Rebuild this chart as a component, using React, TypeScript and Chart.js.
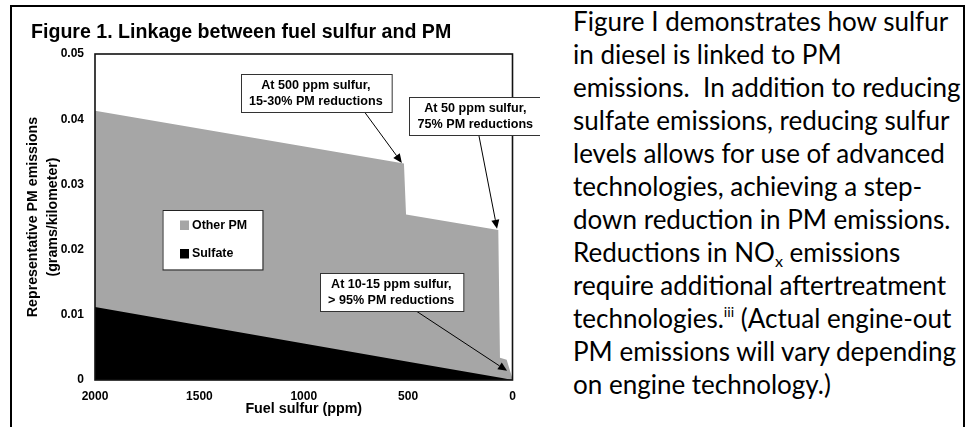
import React, { useEffect, useRef } from 'react';
import { Chart, registerables } from 'chart.js';

Chart.register(...registerables);

// ---- data ----
const otherPmPpm = [2000, 520, 510, 68, 60, 28, 0];
const otherPmTotal = [0.0413, 0.0332, 0.0254, 0.023, 0.0034, 0.0031, 0.0002];
const sulfatePpm = [2000, 1500, 1000, 500, 50, 0];
const sulfateValues = [0.0112, 0.0084, 0.0056, 0.0028, 0.0003, 0];
const xTickValues = [2000, 1500, 1000, 500, 0];
const yTickValues = [0, 0.01, 0.02, 0.03, 0.04, 0.05];
const seriesLabels = ['Other PM', 'Sulfate'];
const seriesColors = ['#a6a6a6', '#000000'];

const chartTitle = 'Figure 1. Linkage between fuel sulfur and PM';
const xTitle = 'Fuel sulfur (ppm)';
const yTitle = ['Representative PM emissions', '(grams/kilometer)'];

const annotationText = [
  ['At 500 ppm sulfur,', '15-30% PM reductions'],
  ['At 50 ppm sulfur,', '75% PM reductions'],
  ['At 10-15 ppm sulfur,', '> 95% PM reductions'],
];
const annotationCenterPpm = [942, 178, 581];
const annotationCenterValue = [0.044, 0.0405, 0.0135];
const arrowTailPpm = [707, 161, 458];
const arrowTipPpm = [530, 74, 26];
const arrowTipValue = [0.0333, 0.0232, 0.0014];

const bodyLines = [
  'Figure I demonstrates how sulfur',
  'in diesel is linked to PM',
  'emissions.  In addition to reducing',
  'sulfate emissions, reducing sulfur',
  'levels allows for use of advanced',
  'technologies, achieving a step-',
  'down reduction in PM emissions.',
  'NOX',
  'require additional aftertreatment',
  'III',
  'PM emissions will vary depending',
  'on engine technology.)',
];

const FONT = 'Arial, "Liberation Sans", Helvetica, sans-serif';

const framePlugin = {
  id: 'framePlugin',
  beforeDraw(chart: any) {
    const ctx = chart.ctx;
    ctx.save();
    ctx.fillStyle = '#000';
    ctx.font = `bold 19.6px ${FONT}`;
    ctx.textBaseline = 'alphabetic';
    ctx.textAlign = 'left';
    ctx.fillText(chartTitle, 31, 38);
    ctx.restore();
  },
  afterDatasetsDraw(chart: any) {
    const ctx = chart.ctx;
    const a = chart.chartArea;
    ctx.save();
    ctx.strokeStyle = '#111';
    ctx.lineWidth = 1.6;
    ctx.strokeRect(a.left, a.top, a.right - a.left, a.bottom - a.top);
    // legend
    const lx = a.left + 67.5;
    const ly = a.top + 156;
    ctx.fillStyle = '#fff';
    ctx.fillRect(lx, ly, 100, 59.5);
    ctx.strokeStyle = '#222';
    ctx.lineWidth = 1;
    ctx.strokeRect(lx + 0.5, ly + 0.5, 100, 59.5);
    ctx.font = `bold 12.4px ${FONT}`;
    ctx.textBaseline = 'middle';
    ctx.textAlign = 'left';
    seriesLabels.forEach((lab, i) => {
      const yy = ly + 10.5 + i * 28.5;
      ctx.fillStyle = seriesColors[i];
      ctx.fillRect(lx + 17.5, yy, 9, 9.5);
      ctx.fillStyle = '#000';
      ctx.fillText(lab, lx + 29.5, yy + 5);
    });
    ctx.restore();
  },
  afterDraw(chart: any) {
    const ctx = chart.ctx;
    const xs = chart.scales.x;
    const ys = chart.scales.y;
    ctx.save();
    ctx.font = `bold 12.6px ${FONT}`;
    ctx.textAlign = 'center';
    ctx.textBaseline = 'middle';
    annotationText.forEach((lines, i) => {
      const cx = xs.getPixelForValue(annotationCenterPpm[i]);
      const cy = ys.getPixelForValue(annotationCenterValue[i]);
      const w = Math.max(...lines.map((l) => ctx.measureText(l).width)) + 17;
      const h = 38;
      const bx = Math.round(cx - w / 2) + 0.5;
      const by = Math.round(cy - h / 2) + 0.5;
      // arrow
      const tx = xs.getPixelForValue(arrowTailPpm[i]);
      const ty = by + h;
      const px = xs.getPixelForValue(arrowTipPpm[i]);
      const py = ys.getPixelForValue(arrowTipValue[i]);
      const ang = Math.atan2(py - ty, px - tx);
      const hl = 9;
      const hw = 4;
      ctx.strokeStyle = '#000';
      ctx.lineWidth = 1;
      ctx.beginPath();
      ctx.moveTo(tx, ty);
      ctx.lineTo(px - hl * Math.cos(ang), py - hl * Math.sin(ang));
      ctx.stroke();
      ctx.fillStyle = '#000';
      ctx.beginPath();
      ctx.moveTo(px, py);
      ctx.lineTo(px - hl * Math.cos(ang) + hw * Math.sin(ang), py - hl * Math.sin(ang) - hw * Math.cos(ang));
      ctx.lineTo(px - hl * Math.cos(ang) - hw * Math.sin(ang), py - hl * Math.sin(ang) + hw * Math.cos(ang));
      ctx.closePath();
      ctx.fill();
      // box
      ctx.fillStyle = '#fff';
      ctx.fillRect(bx, by, w, h);
      ctx.strokeStyle = '#333';
      ctx.strokeRect(bx, by, w, h);
      ctx.fillStyle = '#000';
      lines.forEach((l, j) => {
        ctx.fillText(l, cx, cy - 7.7 + j * 15.8);
      });
    });
    ctx.restore();
  },
};

export default function App() {
  const ref = useRef<HTMLCanvasElement>(null);

  useEffect(() => {
    if (!ref.current) return;
    const chart = new Chart(ref.current, {
      type: 'line',
      data: {
        datasets: [
          {
            label: seriesLabels[0],
            data: otherPmPpm.map((x, i) => ({ x, y: otherPmTotal[i] })),
            backgroundColor: seriesColors[0],
            borderColor: 'rgba(0,0,0,0)',
            borderWidth: 0,
            pointRadius: 0,
            fill: 'origin',
            tension: 0,
            order: 2,
          },
          {
            label: seriesLabels[1],
            data: sulfatePpm.map((x, i) => ({ x, y: sulfateValues[i] })),
            backgroundColor: seriesColors[1],
            borderColor: 'rgba(0,0,0,0)',
            borderWidth: 0,
            pointRadius: 0,
            fill: 'origin',
            tension: 0,
            order: 1,
          },
        ],
      },
      options: {
        responsive: false,
        animation: false,
        devicePixelRatio: 1,
        layout: { padding: { left: 0, right: 27.5, top: 54, bottom: 0 } },
        plugins: {
          legend: { display: false },
          tooltip: { enabled: false },
          title: { display: false },
        },
        scales: {
          x: {
            type: 'linear',
            reverse: true,
            min: 0,
            max: 2000,
            afterFit: (s: any) => {
              s.height = 47;
            },
            afterBuildTicks: (s: any) => {
              s.ticks = xTickValues.map((v) => ({ value: v }));
            },
            grid: { display: false, drawTicks: false },
            border: { display: false },
            ticks: {
              padding: 9.5,
              color: '#000',
              font: { family: FONT, size: 12, weight: 'bold' },
              callback: (v: any) => String(v),
              maxRotation: 0,
            },
            title: {
              display: true,
              text: xTitle,
              color: '#000',
              font: { family: FONT, size: 14.3, weight: 'bold', lineHeight: 1.2 },
              padding: { top: 0, bottom: 9.6 },
            },
          },
          y: {
            type: 'linear',
            min: 0,
            max: 0.05,
            afterFit: (s: any) => {
              s.width = 95;
            },
            afterBuildTicks: (s: any) => {
              s.ticks = yTickValues.map((v) => ({ value: v }));
            },
            grid: { display: false, drawTicks: false },
            border: { display: false },
            ticks: {
              padding: 11,
              color: '#000',
              font: { family: FONT, size: 12, weight: 'bold' },
              callback: (v: any) => (v === 0 ? '0' : Number(v).toFixed(2)),
            },
            title: {
              display: true,
              text: yTitle,
              color: '#000',
              font: { family: FONT, size: 14.2, weight: 'bold', lineHeight: 20 / 14.2 },
              padding: { top: 23, bottom: 0 },
            },
          },
        },
      },
      plugins: [framePlugin],
    } as any);
    return () => chart.destroy();
  }, []);

  const lineStyle: React.CSSProperties = { whiteSpace: 'pre', height: 33 };

  const renderLine = (l: string, i: number) => {
    if (l === 'NOX') {
      return (
        <div key={i} style={lineStyle}>
          Reductions in NO
          <span style={{ fontSize: '0.62em', verticalAlign: '-0.3em', lineHeight: 0 }}>x</span> emissions
        </div>
      );
    }
    if (l === 'III') {
      return (
        <div key={i} style={lineStyle}>
          technologies.
          <span style={{ fontSize: '0.55em', verticalAlign: '0.8em', lineHeight: 0 }}>iii</span> (Actual engine-out
        </div>
      );
    }
    return (
      <div key={i} style={lineStyle}>
        {l}
      </div>
    );
  };

  return (
    <div
      style={{
        position: 'absolute',
        left: 0,
        top: 0,
        width: 976,
        height: 427,
        overflow: 'hidden',
        background: '#fff',
      }}
    >
      <div
        style={{
          position: 'absolute',
          left: 10,
          top: 5,
          width: 955,
          height: 460,
          borderLeft: '2px solid #000',
          borderTop: '2px solid #000',
          borderRight: '2px solid #000',
          boxSizing: 'border-box',
        }}
      />
      <canvas
        ref={ref}
        width={540}
        height={427}
        style={{ position: 'absolute', left: 0, top: 0, width: 540, height: 427 }}
      />
      <div
        style={{
          position: 'absolute',
          left: 573,
          top: 5,
          fontFamily: 'Lato, "Open Sans", sans-serif',
          fontSize: 26,
          lineHeight: '33px',
          color: '#000',
        }}
      >
        {bodyLines.map(renderLine)}
      </div>
    </div>
  );
}
